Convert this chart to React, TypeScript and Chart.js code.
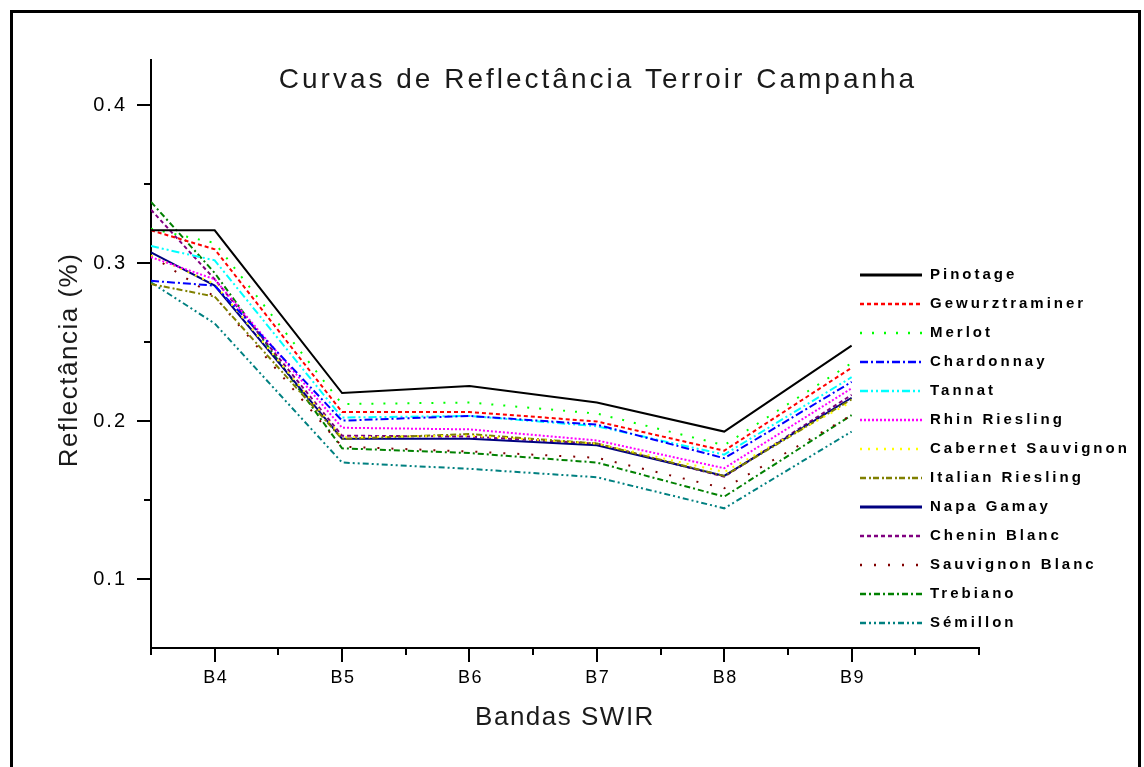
import React, { useEffect, useRef } from 'react';
import { Chart, registerables } from 'chart.js';

Chart.register(...registerables);

// ---- data ----
const bandLabels = ['B4', 'B5', 'B6', 'B7', 'B8', 'B9'];
const bandPositions = [4, 5, 6, 7, 8, 9];
// first sample is the value where each curve enters the plot at its left edge
const sampleX = [3.5, 4, 5, 6, 7, 8, 9];

const pinotage = [0.321, 0.321, 0.218, 0.2225, 0.212, 0.1936, 0.248];
const gewurztraminer = [0.321, 0.309, 0.206, 0.206, 0.2, 0.1815, 0.234];
const merlot = [0.322, 0.313, 0.211, 0.212, 0.205, 0.185, 0.237];
const chardonnay = [0.289, 0.286, 0.2005, 0.2035, 0.198, 0.1767, 0.225];
const tannat = [0.311, 0.302, 0.2025, 0.2035, 0.197, 0.179, 0.228];
const rhinRiesling = [0.304, 0.29, 0.196, 0.195, 0.188, 0.1704, 0.221];
const cabernetSauvignon = [0.305, 0.287, 0.19, 0.191, 0.186, 0.168, 0.2125];
const italianRiesling = [0.287, 0.279, 0.189, 0.192, 0.186, 0.1655, 0.214];
const napaGamay = [0.307, 0.286, 0.189, 0.189, 0.185, 0.1655, 0.215];
const cheninBlanc = [0.334, 0.29, 0.191, 0.1904, 0.186, 0.165, 0.2168];
const sauvignonBlanc = [0.305, 0.279, 0.184, 0.181, 0.177, 0.1577, 0.204];
const trebiano = [0.339, 0.294, 0.183, 0.18, 0.174, 0.1524, 0.204];
const semillon = [0.288, 0.262, 0.174, 0.17, 0.1647, 0.145, 0.1936];

const seriesNames = [
  'Pinotage', 'Gewurztraminer', 'Merlot', 'Chardonnay', 'Tannat', 'Rhin Riesling',
  'Cabernet Sauvignon', 'Italian Riesling', 'Napa Gamay', 'Chenin Blanc',
  'Sauvignon Blanc', 'Trebiano', 'Sémillon',
];
const seriesValues = [
  pinotage, gewurztraminer, merlot, chardonnay, tannat, rhinRiesling,
  cabernetSauvignon, italianRiesling, napaGamay, cheninBlanc,
  sauvignonBlanc, trebiano, semillon,
];
const seriesColors = [
  '#000000', '#ff0000', '#00ff00', '#0000ff', '#00ffff', '#ff00ff',
  '#ffff00', '#808000', '#000080', '#800080', '#800000', '#008000', '#008080',
];
const seriesDashes: number[][] = [
  [], [4, 3], [2, 10], [8, 3, 2, 3], [8, 3, 2, 3, 2, 3], [2, 2],
  [2, 6], [6, 3, 2, 2], [], [4, 3], [2, 12], [6, 3, 2, 3], [6, 3, 2, 3, 2, 3],
];

const yMajorTicks = [0.1, 0.2, 0.3, 0.4];
const yTickLabels = ['0.1', '0.2', '0.3', '0.4'];
const yMinorTicks = [0.15, 0.25, 0.35];
const xMinorTicks = [3.5, 4.5, 5.5, 6.5, 7.5, 8.5, 9.5, 10];

const chartTitle = 'Curvas de Reflectância Terroir Campanha';
const xTitle = 'Bandas SWIR';
const yTitle = 'Reflectância (%)';

const FONT = '"Liberation Sans", Arial, sans-serif';

const decorPlugin = {
  id: 'decor',
  afterDraw(chart: any) {
    const ctx = chart.ctx as CanvasRenderingContext2D;
    const xs = chart.scales.x;
    const ys = chart.scales.y;
    const area = chart.chartArea;
    ctx.save();
    ctx.strokeStyle = '#000';
    ctx.lineWidth = 2;
    ctx.setLineDash([]);
    // x ticks
    const drawX = (v: number, len: number) => {
      const px = Math.round(xs.getPixelForValue(v));
      ctx.beginPath();
      ctx.moveTo(px, area.bottom);
      ctx.lineTo(px, area.bottom + len);
      ctx.stroke();
    };
    bandPositions.forEach((v) => drawX(v, 14));
    xMinorTicks.forEach((v) => drawX(v, 7));
    const drawY = (v: number, len: number) => {
      const py = Math.round(ys.getPixelForValue(v));
      ctx.beginPath();
      ctx.moveTo(area.left, py);
      ctx.lineTo(area.left - len, py);
      ctx.stroke();
    };
    yMajorTicks.forEach((v) => drawY(v, 14));
    yMinorTicks.forEach((v) => drawY(v, 7));

    // tick labels
    ctx.fillStyle = '#000';
    ctx.textBaseline = 'middle';
    (ctx as any).letterSpacing = '1.5px';
    ctx.font = `18px ${FONT}`;
    ctx.textAlign = 'center';
    bandPositions.forEach((v, i) => {
      ctx.fillText(bandLabels[i], xs.getPixelForValue(v) + 1, 678);
    });
    (ctx as any).letterSpacing = '2px';
    ctx.font = `20px ${FONT}`;
    ctx.textAlign = 'right';
    yMajorTicks.forEach((v, i) => {
      ctx.fillText(yTickLabels[i], area.left - 24, ys.getPixelForValue(v));
    });

    // titles
    ctx.fillStyle = '#1a1a1a';
    (ctx as any).letterSpacing = '3px';
    ctx.font = `28px ${FONT}`;
    ctx.textAlign = 'center';
    ctx.fillText(chartTitle, 598, 80);

    (ctx as any).letterSpacing = '1.5px';
    ctx.font = `26px ${FONT}`;
    ctx.fillText(xTitle, (area.left + area.right) / 2, 718);

    ctx.save();
    ctx.translate(70, 360);
    ctx.rotate(-Math.PI / 2);
    ctx.fillText(yTitle, 0, 0);
    ctx.restore();

    // legend
    (ctx as any).letterSpacing = '3px';
    ctx.font = `bold 15px ${FONT}`;
    ctx.textAlign = 'left';
    ctx.fillStyle = '#000';
    seriesNames.forEach((name, i) => {
      const y = 275 + i * 29;
      ctx.save();
      ctx.strokeStyle = seriesColors[i];
      ctx.lineWidth = seriesDashes[i].length ? 2.5 : 3;
      ctx.setLineDash(seriesDashes[i]);
      ctx.beginPath();
      ctx.moveTo(860, y);
      ctx.lineTo(922, y);
      ctx.stroke();
      ctx.restore();
      ctx.fillText(name, 930, y);
    });
    ctx.restore();
  },
};

export default function App() {
  const ref = useRef<HTMLCanvasElement | null>(null);

  useEffect(() => {
    if (!ref.current) return;
    const datasets = seriesNames.map((name, i) => ({
      label: name,
      data: sampleX.map((x, j) => ({ x, y: seriesValues[i][j] })),
      borderColor: seriesColors[i],
      backgroundColor: seriesColors[i],
      borderDash: seriesDashes[i],
      borderWidth: 2,
      pointRadius: 0,
      tension: 0,
      fill: false,
    }));

    const chart = new Chart(ref.current, {
      type: 'line',
      data: { datasets },
      plugins: [decorPlugin],
      options: {
        animation: false,
        responsive: false,
        devicePixelRatio: 1,
        events: [],
        layout: { padding: { left: 0, top: 60, right: 165, bottom: 0 } },
        plugins: {
          legend: { display: false },
          title: { display: false },
          tooltip: { enabled: false },
        },
        scales: {
          x: {
            type: 'linear',
            min: 3.5,
            max: 10,
            afterFit: (s: any) => { s.height = 119; },
            afterBuildTicks: (s: any) => {
              s.ticks = [...bandPositions, ...xMinorTicks]
                .sort((a, b) => a - b)
                .map((v) => ({ value: v }));
            },
            grid: { display: false },
            border: { display: true, color: '#000', width: 2 },
            ticks: { display: false },
          },
          y: {
            type: 'linear',
            min: 0.0566,
            max: 0.4288,
            afterFit: (s: any) => { s.width = 151; },
            afterBuildTicks: (s: any) => {
              s.ticks = [...yMajorTicks, ...yMinorTicks]
                .sort((a, b) => a - b)
                .map((v) => ({ value: v }));
            },
            grid: { display: false },
            border: { display: true, color: '#000', width: 2 },
            ticks: { display: false },
          },
        },
      },
    });
    return () => chart.destroy();
  }, []);

  return (
    <div style={{ position: 'absolute', left: 0, top: 0, width: 1144, height: 767, overflow: 'hidden', background: '#fff' }}>
      <div style={{ position: 'absolute', left: 10, top: 10, width: 1125, height: 800, border: '3px solid #000' }} />
      <canvas ref={ref} width={1144} height={767} style={{ position: 'absolute', left: 0, top: 0 }} />
    </div>
  );
}
